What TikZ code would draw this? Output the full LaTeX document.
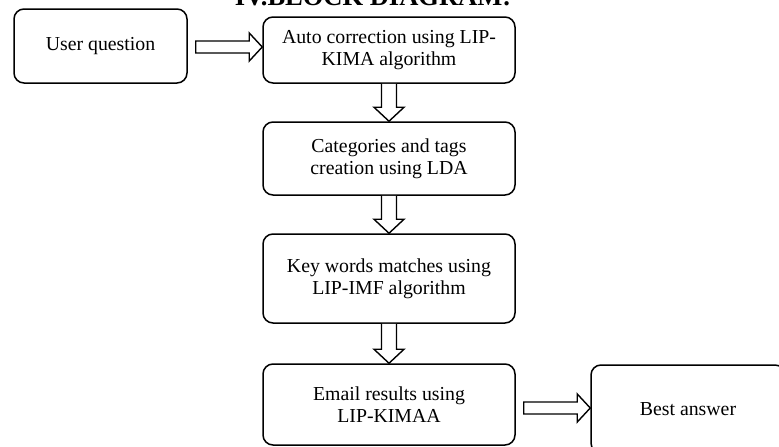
\documentclass[tikz,border=0pt]{standalone}
\usepackage{fontspec}
\setmainfont{Liberation Serif}
\usetikzlibrary{calc}

% hollow block arrow pointing down from the bottom of #1 to the top of #2
\newcommand\vblockarrow[2]{%
  \draw[blockarrow] ($(#1.south)+(-7.5,0)$) -- ($(#2.north)+(-7.5,-14)$)
    -- ($(#2.north)+(-15,-14)$) -- (#2.north) -- ($(#2.north)+(15,-14)$)
    -- ($(#2.north)+(7.5,-14)$) -- ($(#1.south)+(7.5,0)$);}
% hollow block arrow pointing right, from coordinate #1 to coordinate #2
\newcommand\hblockarrow[2]{%
  \draw[blockarrow] ($(#1)+(0,-6)$) -- ($(#2)+(-13,-6)$) -- ($(#2)+(-13,-14)$)
    -- (#2) -- ($(#2)+(-13,14)$) -- ($(#2)+(-13,6)$) -- ($(#1)+(0,6)$) -- cycle;}

\begin{document}
\begin{tikzpicture}[x=1pt,y=-1pt,
  box/.style={draw, line width=1.5pt, rounded corners=10pt, align=center,
    inner sep=0pt, font=\fontsize{19.8}{22}\selectfont},
  blockarrow/.style={draw, line width=1.4pt, fill=white, line join=miter}]
\useasboundingbox (0,0) rectangle (779,447);

\node[font=\fontsize{26.5}{30}\selectfont\bfseries, anchor=base] (title) at (373,5.5) {IV.BLOCK DIAGRAM:};

\node[box, minimum width=173pt, minimum height=74pt] (user) at (100.5,46) {User question};
\node[box, minimum width=252pt, minimum height=66pt] (auto) at (389,50) {Auto correction using LIP-\\KIMA algorithm};
\node[box, minimum width=252pt, minimum height=73pt] (cat) at (389,158.5) {Categories and tags\\creation using LDA};
\node[box, minimum width=252pt, minimum height=89pt] (key) at (389,278.5) {Key words matches using\\LIP-IMF algorithm};
\node[box, minimum width=252pt, minimum height=81pt] (mail) at (389,404.5) {Email results using\\LIP-KIMAA};
\node[box, minimum width=194pt, minimum height=88pt] (best) at (688,409) {Best answer};

\coordinate (s1) at ($(user.east)+(8,1)$);
\coordinate (t1) at (s1 -| auto.west);
\hblockarrow{s1}{t1}

\vblockarrow{auto}{cat}
\vblockarrow{cat}{key}
\vblockarrow{key}{mail}

\coordinate (t2) at ($(best.west)+(0,-1)$);
\coordinate (s2) at ($(t2 -| mail.east)+(8,0)$);
\hblockarrow{s2}{t2}
\end{tikzpicture}
\end{document}
